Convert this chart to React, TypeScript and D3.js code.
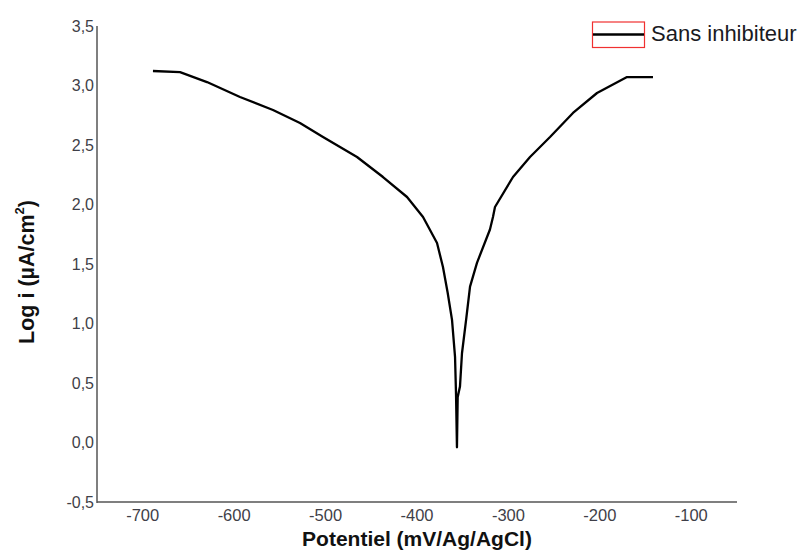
import React from "react";
import * as d3 from "d3";

const potentials = [
  -688.8, -659.2, -629.7, -593.6, -557.5, -528.0, -502.8, -465.6, -437.2, -410.9,
  -393.4, -378.1, -371.6, -366.5, -361.7, -358.4, -357.3, -356.3,
  -355.5, -353.0, -350.8, -346.0, -342.0, -334.4, -320.2, -316.9, -314.7,
  -295.0, -276.4, -254.5, -229.4, -203.1, -170.3, -141.9,
];
const logI = [
  3.122, 3.113, 3.029, 2.903, 2.794, 2.685, 2.567, 2.399, 2.231, 2.063,
  1.895, 1.676, 1.475, 1.26, 1.03, 0.72, 0.40, -0.04,
  0.38, 0.47, 0.75, 1.05, 1.31, 1.51, 1.79, 1.895, 1.979,
  2.231, 2.399, 2.567, 2.769, 2.937, 3.071, 3.071,
];
const xTicks = [-700, -600, -500, -400, -300, -200, -100];
const yTicks = [-0.5, 0, 0.5, 1, 1.5, 2, 2.5, 3, 3.5];
const seriesName = "Sans inhibiteur";

export default function App() {
  const W = 805, H = 552;
  const x = d3.scaleLinear().domain([-750, -50]).range([97, 737]);
  const y = d3.scaleLinear().domain([-0.5, 3.5]).range([502, 26]);
  const data = potentials.map((p, i) => [p, logI[i]] as [number, number]);
  const line = d3.line<[number, number]>().x(d => x(d[0])).y(d => y(d[1]));
  const fmt = (v: number) => d3.format(".1f")(v).replace(".", ",").replace("−", "-");
  const font = "Liberation Sans, Arial, sans-serif";
  return (
    <svg width={W} height={H} style={{ position: "absolute", left: 0, top: 0 }} fontFamily={font}>
      <rect width={W} height={H} fill="#fff" />
      <line x1={x(-750)} x2={x(-750)} y1={y(3.5)} y2={y(-0.5) + 1} stroke="#555" strokeWidth={1.5} />
      <line x1={x(-750)} x2={x(-50)} y1={y(-0.5)} y2={y(-0.5)} stroke="#555" strokeWidth={1.5} />
      {yTicks.map(t => (
        <text key={t} x={94} y={y(t)} textAnchor="end" dominantBaseline="central" fontSize={16} fill="#3f3f48">
          {fmt(t)}
        </text>
      ))}
      {xTicks.map(t => (
        <text key={t} x={x(t)} y={515} textAnchor="middle" dominantBaseline="central" fontSize={16.5} fill="#3f3f48">
          {t}
        </text>
      ))}
      <text x={417} y={545.5} textAnchor="middle" fontSize={21} fontWeight="bold" fill="#111">
        Potentiel (mV/Ag/AgCl)
      </text>
      <text transform="translate(27,272) rotate(-90)" textAnchor="middle" dominantBaseline="central" fontSize={21.5} fontWeight="bold" fill="#111">
        Log i (µA/cm<tspan dy={-8} fontSize={13}>2</tspan><tspan dy={8}>)</tspan>
      </text>
      <path d={line(data) || ""} fill="none" stroke="#000" strokeWidth={2.3} strokeLinejoin="round" />
      <rect x={592.5} y={22} width={52} height={25.5} fill="none" stroke="#f03030" strokeWidth={1.2} />
      <line x1={593} x2={644} y1={34.5} y2={34.5} stroke="#000" strokeWidth={2.5} />
      <text x={651} y={40.5} fontSize={22} fill="#1a1a22">
        {seriesName}
      </text>
    </svg>
  );
}
